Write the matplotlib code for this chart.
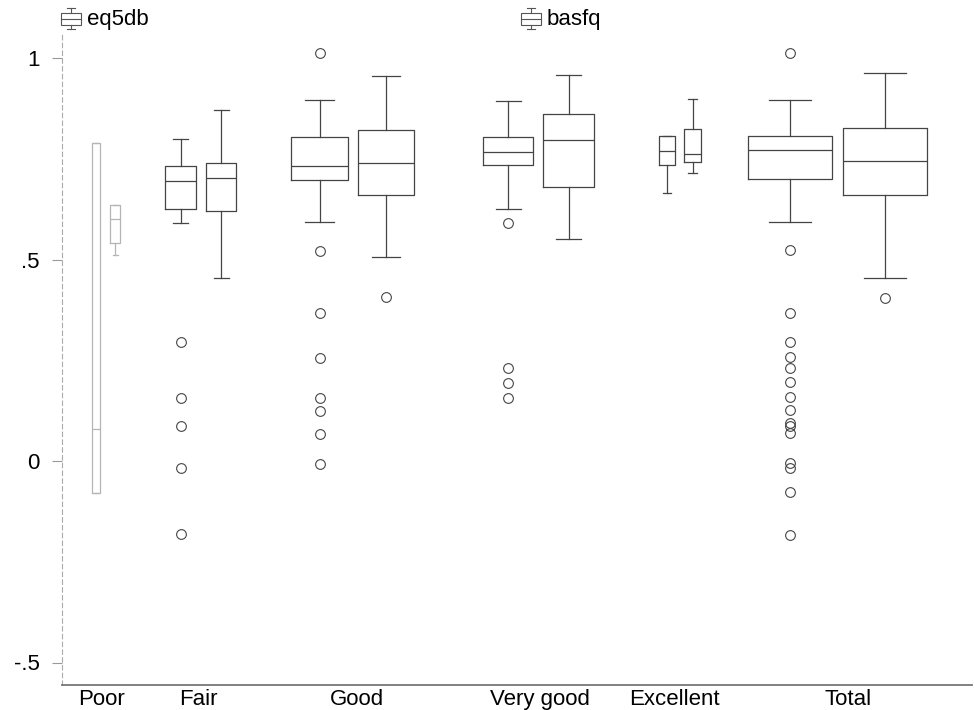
import matplotlib
matplotlib.use("Agg")
import matplotlib.pyplot as plt
from matplotlib.patches import Rectangle
from matplotlib.lines import Line2D

plt.rcParams['font.family'] = ['Liberation Sans', 'DejaVu Sans']

# groups on the x axis
categories = ['Poor', 'Fair', 'Good', 'Very good', 'Excellent', 'Total']

# eq5db box statistics per group
eq5db_lo  = [-0.08, 0.590, 0.593, 0.625, 0.665, 0.593]
eq5db_q1  = [-0.08, 0.625, 0.697, 0.735, 0.734, 0.700]
eq5db_med = [0.08, 0.695, 0.732, 0.767, 0.769, 0.772]
eq5db_q3  = [0.79, 0.732, 0.804, 0.804, 0.806, 0.806]
eq5db_hi  = [0.79, 0.800, 0.896, 0.893, 0.806, 0.896]
eq5db_out = [
    [],
    [0.295, 0.156, 0.087, -0.017, -0.181],
    [1.012, 0.521, 0.367, 0.256, 0.156, 0.124, 0.067, -0.007],
    [0.591, 0.231, 0.194, 0.157],
    [],
    [1.012, 0.524, 0.367, 0.295, 0.258, 0.231, 0.196, 0.159, 0.127,
     0.094, 0.087, 0.070, -0.005, -0.017, -0.077, -0.184],
]

# basfq box statistics per group
basfq_lo  = [0.510, 0.454, 0.505, 0.551, 0.715, 0.454]
basfq_q1  = [0.540, 0.620, 0.660, 0.680, 0.742, 0.660]
basfq_med = [0.600, 0.702, 0.740, 0.797, 0.762, 0.744]
basfq_q3  = [0.635, 0.739, 0.821, 0.861, 0.824, 0.826]
basfq_hi  = [0.635, 0.871, 0.955, 0.958, 0.898, 0.963]
basfq_out = [[], [], [0.407], [], [], [0.404]]

y_ticks = [-0.5, 0, 0.5, 1]
y_labels = ['-.5', '0', '.5', '1']

# layout (pixel-like x units, box widths vary by group)
eq5db_pos = [96, 180.5, 319.5, 508, 667, 790]
eq5db_w = [8, 31, 57, 50, 16, 84]
basfq_pos = [115, 221, 386, 568.5, 692.5, 885]
basfq_w = [10, 30, 56, 51, 17, 84]
label_pos = [101, 198, 357, 540, 674, 848]


def make_stats(lo, q1, med, q3, hi, out):
    return [dict(whislo=a, q1=b, med=c, q3=d, whishi=e, fliers=f)
            for a, b, c, d, e, f in zip(lo, q1, med, q3, hi, out)]


eq_stats = make_stats(eq5db_lo, eq5db_q1, eq5db_med, eq5db_q3, eq5db_hi, eq5db_out)
ba_stats = make_stats(basfq_lo, basfq_q1, basfq_med, basfq_q3, basfq_hi, basfq_out)

fig = plt.figure(figsize=(9.74, 7.10), dpi=100)
W, H = 974, 710
ax = fig.add_axes([62 / W, 1 - 685 / H, 910 / W, (685 - 34) / H])


def draw(stats, pos, widths, col):
    props = dict(color=col, linewidth=0.9)
    ax.bxp(stats, positions=pos, widths=widths,
           capwidths=[w * 0.5 for w in widths],
           boxprops=props, whiskerprops=props, capprops=props,
           medianprops=props,
           flierprops=dict(marker='o', markersize=7, markerfacecolor='none',
                           markeredgecolor='#444444', markeredgewidth=0.8),
           manage_ticks=False)


dark = '#444444'
faint = '#b5b5b5'
# Poor group comes out very faint in the original
draw(eq_stats[:1], eq5db_pos[:1], eq5db_w[:1], faint)
draw(ba_stats[:1], basfq_pos[:1], basfq_w[:1], faint)
draw(eq_stats[1:], eq5db_pos[1:], eq5db_w[1:], dark)
draw(ba_stats[1:], basfq_pos[1:], basfq_w[1:], dark)

ax.set_xlim(62, 972)
ax.set_ylim((461 - 685) / 403, (461 - 34) / 403)
ax.set_yticks(y_ticks)
ax.set_yticklabels(y_labels)
ax.set_xticks(label_pos)
ax.set_xticklabels(categories)
ax.tick_params(axis='y', length=7, width=0.8, color='#999999', pad=9, labelsize=16)
ax.tick_params(axis='x', length=0, pad=3, labelsize=16)

for s in ['top', 'right']:
    ax.spines[s].set_visible(False)
ax.spines['left'].set_color('#aaaaaa')
ax.spines['left'].set_linewidth(0.8)
ax.spines['left'].set_linestyle((0, (4, 3)))
ax.spines['bottom'].set_color('#777777')
ax.spines['bottom'].set_linewidth(1.3)


# legend: small box icon + name, drawn in figure pixels
def legend_item(x0, name):
    def fx(px):
        return px / W

    def fy(py):
        return 1 - py / H
    col = '#555555'
    fig.add_artist(Rectangle((fx(x0), fy(25)), 20 / W, 12 / H, fill=False,
                             edgecolor=col, linewidth=0.8,
                             transform=fig.transFigure))
    fig.add_artist(Line2D([fx(x0), fx(x0 + 20)], [fy(19), fy(19)], color=col,
                          linewidth=0.8, transform=fig.transFigure))
    for a, b in [(8, 13), (25, 29)]:
        fig.add_artist(Line2D([fx(x0 + 10), fx(x0 + 10)], [fy(a), fy(b)], color=col,
                              linewidth=0.8, transform=fig.transFigure))
    for c in [8, 29]:
        fig.add_artist(Line2D([fx(x0 + 6), fx(x0 + 14)], [fy(c), fy(c)], color=col,
                              linewidth=0.8, transform=fig.transFigure))
    fig.text(fx(x0 + 26), fy(19), name, fontsize=16, va='center', ha='left')


legend_item(61, 'eq5db')
legend_item(521, 'basfq')

fig.savefig('out.png', dpi=100)
